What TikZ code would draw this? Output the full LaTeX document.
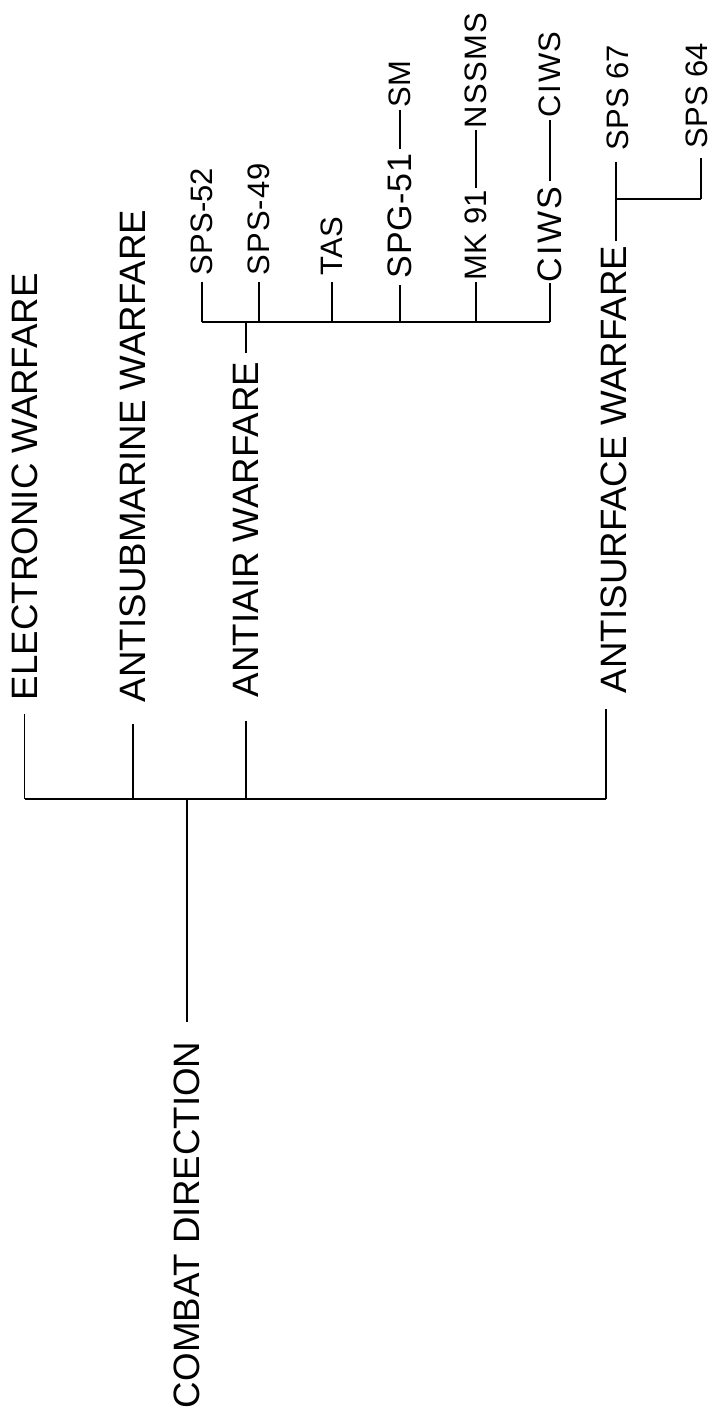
\documentclass[tikz,border=0pt]{standalone}
\usepackage{fontspec}
\setmainfont{Liberation Sans}
\begin{document}
\begin{tikzpicture}[x=1pt,y=-1pt,
  lab/.style={rotate=90, anchor=west, inner sep=0pt, outer sep=0pt, text=black},
  big/.style={lab, font=\fontsize{36.7}{40}\selectfont},
  small/.style={lab, font=\fontsize{31}{34}\selectfont},
  conn/.style={draw=black, line width=1.2pt},
  bus/.style={draw=black, line width=2pt}]
\fill[white] (0,0) rectangle (713,1416);
\useasboundingbox (0,0) rectangle (713,1416);

% top-level labels
\node[big] (combat) at (187,1408) {COMBAT DIRECTION};
\node[big] (ew)   at (24.5,700) {ELECTRONIC WARFARE};
\node[big] (asw)  at (133,702) {ANTISUBMARINE WARFARE};
\node[big] (aaw)  at (246,697) {ANTIAIR WARFARE};
\node[big] (suw)  at (614,693) {ANTISURFACE WARFARE};

% antiair leaves
\node[small] (sps52) at (202,275) {SPS-52};
\node[small] (sps49) at (259,275) {\addfontfeature{LetterSpace=3}SPS-49};
\node[small] (tas)   at (332,275) {TAS};
\node[small, font=\fontsize{34}{37}\selectfont] (spg51) at (400,278) {\addfontfeature{LetterSpace=2}SPG-51};
\node[small] (sm)    at (400,107) {SM};
\node[small] (mk91)  at (476,280) {MK 91};
\node[small] (nssms) at (476,128) {\addfontfeature{LetterSpace=4}NSSMS};
\node[small, font=\fontsize{34}{37}\selectfont] (ciwsa) at (550,282) {\addfontfeature{LetterSpace=6}CIWS};
\node[small] (ciwsb) at (550,117) {\addfontfeature{LetterSpace=5}CIWS};

% antisurface leaves
\node[small] (sps67) at (618,150) {SPS 67};
\node[small] (sps64) at (697,148) {SPS 64};

% main tree
\coordinate (mb) at (186,799);
\draw[conn, shorten <=20pt] (combat.east) -- (combat.east |- mb);
\draw[bus] (ew.west |- mb) -- ([xshift=-8pt]suw.west |- mb);
\draw[conn, shorten <=14pt] (ew.west) -- (ew.west |- mb);
\draw[conn, shorten <=22pt] (asw.west) -- (asw.west |- mb);
\draw[conn, shorten <=24pt] (aaw.west) -- (aaw.west |- mb);
\draw[conn, shorten <=16pt] ([xshift=-8pt]suw.west) -- ([xshift=-8pt]suw.west |- mb);

% antiair subtree
\coordinate (ab) at (246,321.5);
\draw[conn, shorten <=9pt] (aaw.east) -- (aaw.east |- ab);
\draw[bus] (sps52.west |- ab) -- (ciwsa.west |- ab);
\draw[conn, shorten <=7pt] (sps52.west) -- (sps52.west |- ab);
\draw[conn, shorten <=7pt] (sps49.west) -- (sps49.west |- ab);
\draw[conn, shorten <=7pt] (tas.west) -- (tas.west |- ab);
\draw[conn, shorten <=7pt] (spg51.west) -- (spg51.west |- ab);
\draw[conn, shorten <=2pt] (mk91.west) -- (mk91.west |- ab);
\draw[conn, shorten <=1pt] (ciwsa.west) -- (ciwsa.west |- ab);
\draw[conn, shorten <=5pt, shorten >=3pt] (spg51.east) -- (sm.west);
\draw[conn, shorten <=2pt, shorten >=2pt] (mk91.east) -- (nssms.west);
\draw[conn, shorten <=6pt, shorten >=3pt] (ciwsa.east) -- (ciwsb.west);

% antisurface subtree
\coordinate (sb) at (616,199);
\draw[conn, shorten <=5pt, shorten >=12pt] ([xshift=2pt]suw.east) -- ([xshift=2pt]suw.east |- sps67.west);
\draw[bus] ([xshift=2pt]suw.east |- sb) -- ([xshift=4pt]sps64.west |- sb);
\draw[conn, shorten >=10pt] ([xshift=4pt]sps64.west |- sb) -- ([xshift=4pt]sps64.west);
\end{tikzpicture}
\end{document}
